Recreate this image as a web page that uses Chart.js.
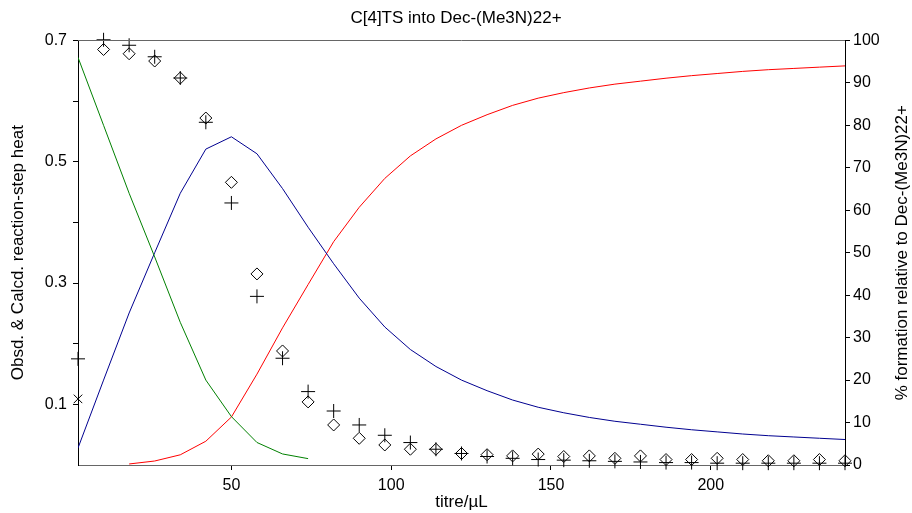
<!DOCTYPE html>
<html>
<head>
<meta charset="utf-8">
<script src="https://cdn.jsdelivr.net/npm/chart.js@4.4.0/dist/chart.umd.min.js"></script>
<style>
  body { margin: 0; background: #fff; }
  #wrap { width: 912px; height: 513px; }
</style>
</head>
<body>
<div id="wrap"><canvas id="myChart" width="912" height="513"></canvas></div>
<script>
// titre volumes (uL) of each injection
const titre = [2, 10, 18, 26, 34, 42, 50, 58, 66, 74, 82, 90, 98, 106, 114, 122,
    130, 138, 146, 154, 162, 170, 178, 186, 194, 202, 210, 218, 226, 234, 242];

// reaction-step heat, two series (diamonds / plus marks)
const heatDiamond = [0.109, 0.685, 0.678, 0.666, 0.638, 0.572, 0.466, 0.315, 0.188, 0.104,
    0.066, 0.044, 0.033, 0.026, 0.026, 0.019, 0.017, 0.015, 0.018, 0.014, 0.015, 0.011,
    0.015, 0.009, 0.009, 0.011, 0.009, 0.007, 0.007, 0.009, 0.007];
const heatPlus = [0.175, 0.701, 0.692, 0.673, 0.638, 0.565, 0.432, 0.278, 0.176, 0.121,
    0.089, 0.066, 0.049, 0.037, 0.026, 0.019, 0.014, 0.011, 0.009, 0.008, 0.007, 0.006,
    0.005, 0.004, 0.004, 0.003, 0.003, 0.003, 0.003, 0.003, 0.003];

// % formation curves
const pctGreen = [96, 80, 64, 49, 33.6, 20, 11.4, 5.3, 2.6, 1.5];
const pctBlue = [4, 20, 35.8, 50, 64, 74.4, 77.3, 73.3, 65.1, 56, 47.4, 39.3, 32.5, 27.2,
    23.2, 20, 17.5, 15.3, 13.6, 12.3, 11.2, 10.3, 9.6, 8.9, 8.3, 7.8, 7.3, 6.9, 6.6, 6.3, 6.0];
const pctRed = [null, null, 0.24, 0.94, 2.4, 5.6, 11.3, 21.4, 32.3, 42.5, 52.6, 60.7, 67.5,
    72.8, 76.8, 80, 82.5, 84.7, 86.4, 87.7, 88.8, 89.7, 90.4, 91.1, 91.7, 92.2, 92.7, 93.1,
    93.4, 93.7, 94.0];

const xTicks = [50, 100, 150, 200];
const leftTicks = [0.1, 0.2, 0.3, 0.4, 0.5, 0.6, 0.7];

const titleText = 'C[4]TS into Dec-(Me3N)22+';
const xTitle = 'titre/\u00b5L';
const leftTitle = 'Obsd. & Calcd. reaction-step heat';
const rightTitle = '% formation relative to Dec-(Me3N)22+';

const FONT = '"Liberation Sans", Arial, sans-serif';

const pts = (ys) => ys.map((y, i) => ({x: titre[i], y: y})).filter(p => p.y !== null);

// top frame line + right title (reads bottom-to-top, unlike Chart.js' right title)
const frame = {
    id: 'frame',
    afterDraw(chart) {
        const {ctx, chartArea: a} = chart;
        ctx.save();
        ctx.strokeStyle = '#666';
        ctx.lineWidth = 1;
        ctx.beginPath();
        ctx.moveTo(a.left, Math.round(a.top) + 0.5);
        ctx.lineTo(a.right, Math.round(a.top) + 0.5);
        ctx.stroke();
        ctx.translate(902, (a.top + a.bottom) / 2);
        ctx.rotate(-Math.PI / 2);
        ctx.font = '17px ' + FONT;
        ctx.textAlign = 'center';
        ctx.textBaseline = 'middle';
        ctx.fillStyle = '#000';
        ctx.fillText(rightTitle, 0, 0);
        ctx.restore();
    }
};

const ctx = document.getElementById('myChart').getContext('2d');
new Chart(ctx, {
    type: 'scatter',
    data: {
        datasets: [{
            type: 'line',
            label: 'green',
            data: pts(pctGreen),
            yAxisID: 'y2',
            borderColor: '#008000',
            borderWidth: 1,
            pointRadius: 0,
            fill: false
        }, {
            type: 'line',
            label: 'blue',
            data: pts(pctBlue),
            yAxisID: 'y2',
            borderColor: '#000090',
            borderWidth: 1,
            pointRadius: 0,
            fill: false
        }, {
            type: 'line',
            label: 'red',
            data: pts(pctRed),
            yAxisID: 'y2',
            borderColor: '#ff0000',
            borderWidth: 1,
            pointRadius: 0,
            fill: false
        }, {
            label: 'diamond',
            data: pts(heatDiamond),
            yAxisID: 'y',
            pointStyle: heatDiamond.map((v, i) => i === 0 ? 'crossRot' : 'rectRot'),
            pointRadius: 6,
            borderColor: '#000',
            backgroundColor: 'rgba(0,0,0,0)',
            borderWidth: 1,
            clip: false
        }, {
            label: 'plus',
            data: pts(heatPlus),
            yAxisID: 'y',
            pointStyle: 'cross',
            pointRadius: 7,
            borderColor: '#000',
            borderWidth: 1,
            clip: false
        }]
    },
    options: {
        responsive: false,
        animation: false,
        devicePixelRatio: 1,
        layout: { padding: 0 },
        plugins: {
            legend: { display: false },
            tooltip: { enabled: false },
            title: {
                display: true,
                text: titleText,
                color: '#000',
                font: { family: FONT, size: 17, weight: 'normal' },
                padding: { top: 8, bottom: 12 }
            }
        },
        scales: {
            x: {
                type: 'linear',
                min: 2,
                max: 242,
                afterBuildTicks: (s) => { s.ticks = xTicks.map(v => ({value: v})); },
                afterFit: (s) => { s.height = 48; },
                border: { color: '#666' },
                grid: { drawOnChartArea: false, tickLength: 5, tickColor: '#000' },
                ticks: { color: '#000', font: { family: FONT, size: 16 }, padding: 6, maxRotation: 0 },
                title: { display: true, text: xTitle, color: '#000', font: { family: FONT, size: 17 }, padding: { top: 0, bottom: 0 } }
            },
            y: {
                position: 'left',
                min: 0,
                max: 0.7,
                afterBuildTicks: (s) => { s.ticks = leftTicks.map(v => ({value: v})); },
                afterFit: (s) => { s.width = 78; },
                border: { color: '#000' },
                grid: { drawOnChartArea: false, tickLength: 5, tickColor: '#000' },
                ticks: {
                    color: '#000',
                    font: { family: FONT, size: 16 },
                    padding: 6,
                    callback: (v) => Math.round(v * 10) % 2 === 1 ? v.toFixed(1) : ''
                },
                title: { display: true, text: leftTitle, color: '#000', font: { family: FONT, size: 17 }, padding: { top: 8, bottom: 0 } }
            },
            y2: {
                position: 'right',
                min: 0,
                max: 100,
                afterFit: (s) => { s.width = 67; },
                border: { color: '#000' },
                grid: { drawOnChartArea: false, tickLength: 5, tickColor: '#000' },
                ticks: { stepSize: 10, color: '#000', font: { family: FONT, size: 16 }, padding: 3 }
            }
        }
    },
    plugins: [frame]
});
</script>
</body>
</html>
